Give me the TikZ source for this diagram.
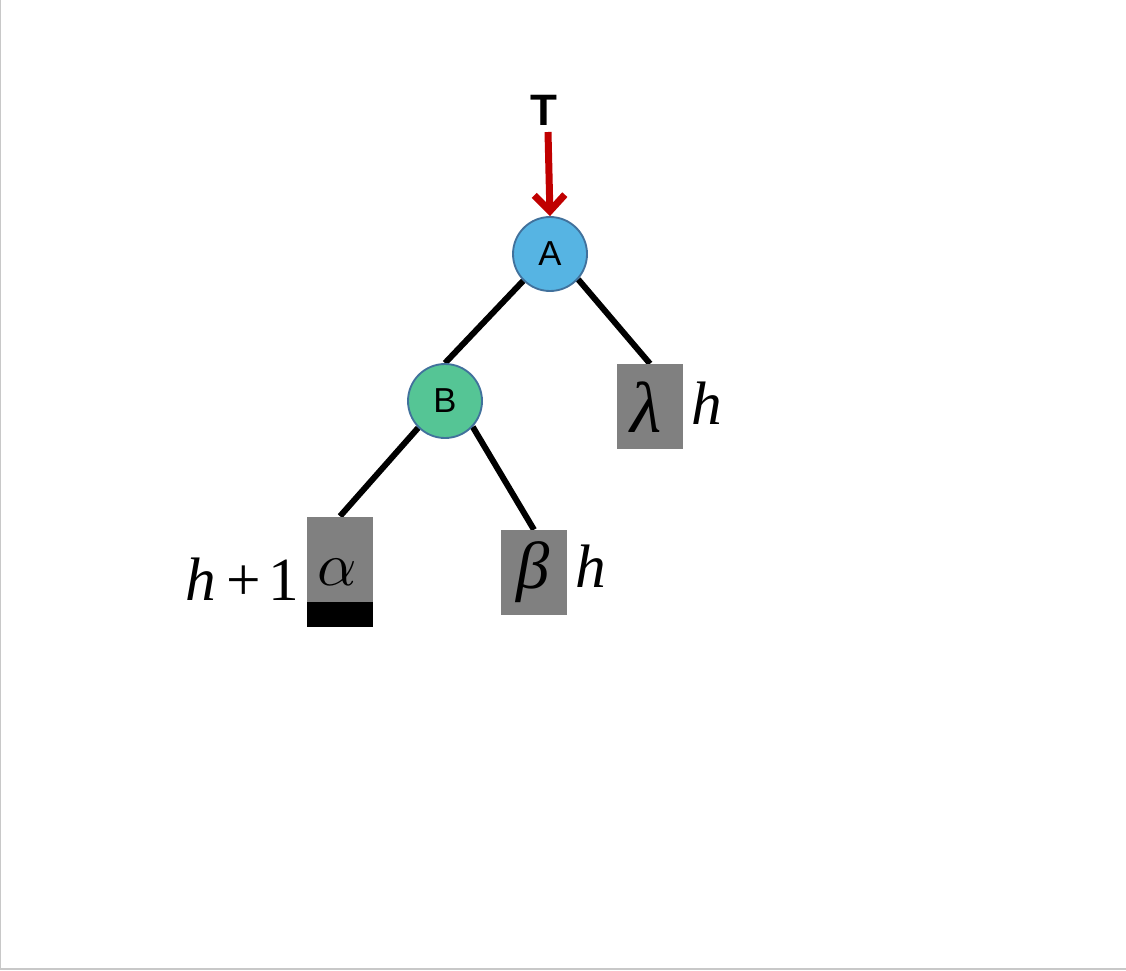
\documentclass[tikz,border=0pt]{standalone}
\usepackage{graphicx}
\usepackage{fontspec}
\setmainfont{Liberation Sans}
\newfontfamily\mytimes{Liberation Serif}[ItalicFont={Liberation Serif Italic}]
\usetikzlibrary{arrows.meta,backgrounds}
\definecolor{nodeblue}{HTML}{56B4E3}
\definecolor{nodegreen}{HTML}{55C595}
\definecolor{nodeline}{HTML}{41719C}
\definecolor{arrowred}{HTML}{C00000}
\definecolor{boxgray}{HTML}{808080}
\definecolor{framegray}{HTML}{C8C8C8}
\begin{document}
\begin{tikzpicture}[x=0.75pt,y=-0.75pt,
  treenode/.style={circle, draw=nodeline, line width=1.4pt, minimum size=55.5pt, inner sep=0pt, font=\fontsize{26}{30}\selectfont},
  subtree/.style={rectangle, fill=boxgray, minimum width=49.5pt, minimum height=63.75pt, inner sep=0pt},
  mathlbl/.style={inner sep=0pt, font=\mytimes\itshape\fontsize{46}{52}\selectfont},
  treeedge/.style={line width=4.5pt}]
\useasboundingbox (0,0) rectangle (1126,970);
\draw[framegray, line width=1.1pt] (0.75,0) -- (0.75,969) -- (1126,969);
% nodes
\node[font=\bfseries\fontsize{33}{38}\selectfont, inner sep=0pt] (T) at (544,110) {T};
\node[treenode, fill=nodeblue] (A) at (550,254) {A};
\node[treenode, fill=nodegreen] (B) at (445,401) {B};
\node[subtree] (lam) at (650,406.5) {};
\node[subtree] (beta) at (534,572.5) {};
\node[subtree] (alpha) at (340,559) {};
\node[fill=black, minimum width=49.5pt, minimum height=18.75pt, inner sep=0pt, anchor=north] (alphabar) at (alpha.south) {};
% labels
\node[mathlbl, font=\mytimes\itshape\fontsize{54}{60}\selectfont, anchor=base] (lamtxt) at (646,432) {λ};
\node[mathlbl, font=\mytimes\itshape\fontsize{50}{56}\selectfont, anchor=base] (betatxt) at (533,588) {β};
\node[inner sep=0pt, anchor=base] (alphatxt) at (337,585) {\scalebox{4.6}{$\alpha$}};
\node[mathlbl, anchor=base west] (hlam) at (691,424) {h};
\node[mathlbl, anchor=base west] (hbeta) at (575,587) {h};
\node[mathlbl, anchor=base east] (hplus) at (299,600) {h\kern8pt{\upshape +}\kern5pt{\upshape 1}};
% connectors
\coordinate (arrowstart) at (548,132);
\draw[arrowred, line width=5.25pt, -{Straight Barb[length=12pt, width=23pt]}] (arrowstart) -- (A.north);
\begin{scope}[on background layer]
\draw[treeedge] (A.225) -- (B.north);
\draw[treeedge] (A.318) -- (lam.north);
\draw[treeedge] (B.225) -- (alpha.north);
\draw[treeedge] (B.317) -- (beta.north);
\end{scope}
\end{tikzpicture}
\end{document}
